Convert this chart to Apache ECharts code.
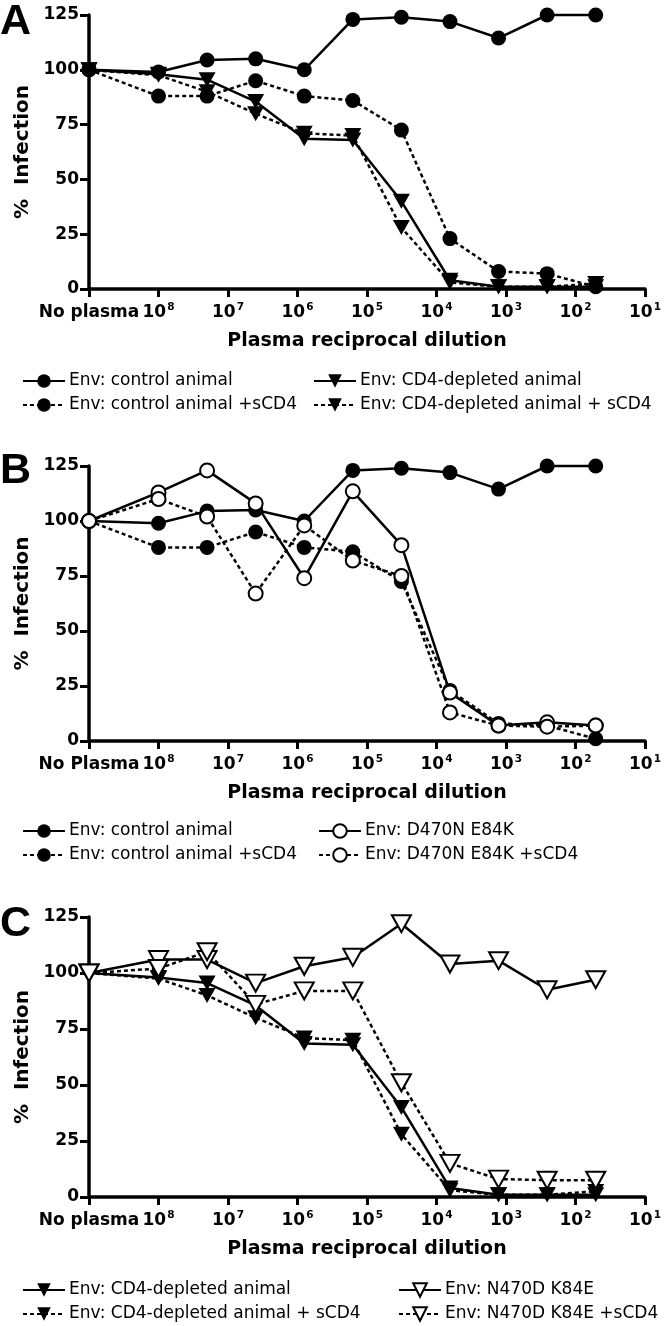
<!DOCTYPE html>
<html><head><meta charset="utf-8">
<script src="https://cdn.jsdelivr.net/npm/echarts@6/dist/echarts.min.js"></script>
<style>html,body{margin:0;padding:0;background:#fff}#c{width:666px;height:1326px}</style>
</head><body><div id="c"></div>
<script>
// x positions: reciprocal dilution; the first entry (1e9) is the "No plasma" control drawn at the axis start
const dilutions = [1e9, 1e8, 2e7, 4e6, 8e5, 1.6e5, 3.2e4, 6400, 1280, 256, 51.2];
const yTickValues = [0, 25, 50, 75, 100, 125];

// % infection
const controlAnimal      = [100, 99, 104.5, 105, 100, 123, 124, 122, 114.5, 125, 125];
const controlAnimalSCD4  = [100, 88, 88, 95, 88, 86, 72.5, 23, 8, 7, 1];
const cd4Depleted        = [100, 98, 95.5, 85.5, 68.5, 68, 40, 4, 1, 1, 1];
const cd4DepletedSCD4    = [100, 97.5, 90, 80, 71, 70, 28, 3, 1, 1, 2.5];
const d470nE84k          = [100, 113, 123, 108, 74, 113.5, 89, 22, 7, 8.5, 7];
const d470nE84kSCD4      = [100, 110, 102, 67, 98, 82, 75, 13, 7, 6.5, 7];
const n470dK84e          = [100, 106, 106, 95.5, 103, 107, 122, 104, 105.5, 92.5, 97];
const n470dK84eSCD4      = [100, 102, 109.5, 86, 92, 92, 51, 15, 8, 7.5, 7.5];

const names = {
  ctrl: 'Env: control animal',
  ctrlS: 'Env: control animal +sCD4',
  cd4: 'Env: CD4-depleted animal',
  cd4S: 'Env: CD4-depleted animal + sCD4',
  d470: 'Env: D470N E84K',
  d470S: 'Env: D470N E84K +sCD4',
  n470: 'Env: N470D K84E',
  n470S: 'Env: N470D K84E +sCD4'
};
const noPlasmaLabels = ['No plasma', 'No Plasma', 'No plasma'];
const panelLetters = ['A', 'B', 'C'];

const FONT = '"DejaVu Sans", sans-serif';
const grids = [
  {left: 89, width: 556, top: 15, height: 274},
  {left: 89, width: 556, top: 466, height: 275},
  {left: 89, width: 556, top: 917, height: 280}
];
const legendTops = [372, 822, 1281];
const legendCol2Left = [313, 318, 398];
const letterTops = [1, 450, 903];

const triDown = 'path://M0,0L20,0L10,18Z';
const solid = {type: 'solid', width: 2.5, color: '#000'};
const dotted = {type: [4, 3], width: 2.5, color: '#000'};
const filled = {color: '#000', borderColor: '#000', borderWidth: 0};
const open = {color: '#fff', borderColor: '#000', borderWidth: 2};

function mk(name, vals, idx, line, symbol, size, item) {
  return {
    type: 'line', name, xAxisIndex: idx, yAxisIndex: idx,
    data: dilutions.map((d, i) => [d, vals[i]]),
    lineStyle: line, symbol, symbolSize: size, itemStyle: item,
    showSymbol: true, clip: false, animation: false
  };
}
const circ = 15, oCirc = 14, tri = [17, 15], oTri = [19, 17];

const series = [
  // A
  mk(names.ctrl, controlAnimal, 0, solid, 'circle', circ, filled),
  mk(names.ctrlS, controlAnimalSCD4, 0, dotted, 'circle', circ, filled),
  mk(names.cd4, cd4Depleted, 0, solid, triDown, tri, filled),
  mk(names.cd4S, cd4DepletedSCD4, 0, dotted, triDown, tri, filled),
  // B
  mk(names.ctrl, controlAnimal, 1, solid, 'circle', circ, filled),
  mk(names.ctrlS, controlAnimalSCD4, 1, dotted, 'circle', circ, filled),
  mk(names.d470, d470nE84k, 1, solid, 'circle', oCirc, open),
  mk(names.d470S, d470nE84kSCD4, 1, dotted, 'circle', oCirc, open),
  // C
  mk(names.cd4, cd4Depleted, 2, solid, triDown, tri, filled),
  mk(names.cd4S, cd4DepletedSCD4, 2, dotted, triDown, tri, filled),
  mk(names.n470, n470dK84e, 2, solid, triDown, oTri, open),
  mk(names.n470S, n470dK84eSCD4, 2, dotted, triDown, oTri, open)
];

const xAxes = grids.map((g, i) => ({
  type: 'log', logBase: 10, gridIndex: i, min: 10, max: 1e9, inverse: true,
  name: 'Plasma reciprocal dilution', nameLocation: 'middle', nameGap: 43,
  nameTextStyle: {fontFamily: FONT, fontWeight: 'bold', fontSize: 19, color: '#000'},
  axisLine: {onZero: false, lineStyle: {color: '#000', width: 3.5}},
  axisTick: {show: true, length: 8, lineStyle: {color: '#000', width: 3}},
  minorTick: {show: false}, splitLine: {show: false},
  axisLabel: {
    margin: 13, color: '#000', hideOverlap: false,
    formatter: v => {
      const e = Math.round(Math.log10(v));
      return e >= 9 ? '{b|' + noPlasmaLabels[i] + '}' : '{b|10}{s|' + e + '}';
    },
    rich: {
      b: {fontFamily: FONT, fontWeight: 'bold', fontSize: 17, lineHeight: 19, color: '#000', verticalAlign: 'bottom'},
      s: {fontFamily: FONT, fontWeight: 'bold', fontSize: 10.5, lineHeight: 19, color: '#000', verticalAlign: 'top', padding: [0, 0, 7, 1]}
    }
  }
}));

const yAxes = grids.map((g, i) => ({
  type: 'value', gridIndex: i, min: yTickValues[0], max: yTickValues[yTickValues.length - 1],
  interval: yTickValues[1] - yTickValues[0],
  name: '%  Infection', nameLocation: 'middle', nameGap: 56, nameRotate: 90,
  nameTextStyle: {fontFamily: FONT, fontWeight: 'bold', fontSize: 20, color: '#000'},
  axisLine: {show: true, onZero: false, lineStyle: {color: '#000', width: 3.5}},
  axisTick: {show: true, length: 9, lineStyle: {color: '#000', width: 3}},
  splitLine: {show: false},
  axisLabel: {margin: 10, color: '#000', fontFamily: FONT, fontWeight: 'bold', fontSize: 17}
}));

const legendCols = [
  [[names.ctrl, names.ctrlS], [names.cd4, names.cd4S]],
  [[names.ctrl, names.ctrlS], [names.d470, names.d470S]],
  [[names.cd4, names.cd4S], [names.n470, names.n470S]]
];
const legends = [];
legendCols.forEach((cols, i) => {
  cols.forEach((data, c) => {
    legends.push({
      data, orient: 'vertical', left: c === 0 ? 22 : legendCol2Left[i], top: legendTops[i],
      itemWidth: 42, itemHeight: 17, itemGap: 6, selectedMode: false, padding: 0,
      textStyle: {fontFamily: FONT, fontSize: 17, color: '#000', lineHeight: 18, padding: [0, 0, 0, -1]}
    });
  });
});

const graphics = panelLetters.map((t, i) => ({
  type: 'text', left: 0, top: letterTops[i],
  style: {text: t, font: 'bold 43px "Liberation Sans", sans-serif', fill: '#000'}
}));

const chart = echarts.init(document.getElementById('c'), null, {renderer: 'canvas'});
chart.setOption({
  animation: false, backgroundColor: '#fff',
  grid: grids, xAxis: xAxes, yAxis: yAxes, series, legend: legends, graphic: graphics
});
</script></body></html>
